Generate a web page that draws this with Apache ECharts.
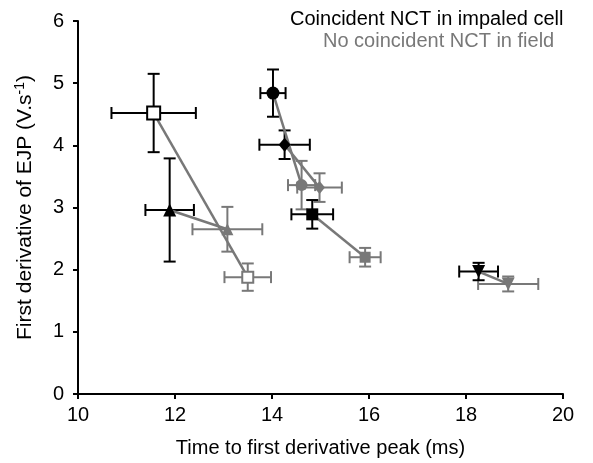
<!DOCTYPE html>
<html>
<head>
<meta charset="utf-8">
<script src="https://cdn.jsdelivr.net/npm/echarts@6/dist/echarts.min.js"></script>
<style>html,body{margin:0;padding:0;background:#fff;}#c{width:593px;height:463px;}</style>
</head>
<body>
<div id="c"></div>
<script>
// Data
const markerTypes = ['openSquare', 'triangle', 'circle', 'diamond', 'square', 'invTriangle'];
const coincX = [11.56, 11.89, 14.02, 14.26, 14.83, 18.26];
const coincY = [4.52, 2.96, 4.84, 4.01, 2.89, 1.97];
const coincXErr = [0.87, 0.50, 0.26, 0.52, 0.43, 0.40];
const coincYErr = [0.63, 0.83, 0.38, 0.23, 0.23, 0.14];
const fieldX = [13.50, 13.08, 14.61, 14.98, 15.92, 18.87];
const fieldY = [1.88, 2.65, 3.36, 3.32, 2.20, 1.77];
const fieldXErr = [0.48, 0.72, 0.28, 0.46, 0.32, 0.62];
const fieldYErr = [0.22, 0.36, 0.39, 0.23, 0.15, 0.12];
const xTicks = [10, 12, 14, 16, 18, 20];
const yTicks = [0, 1, 2, 3, 4, 5, 6];
const legendLabels = ['Coincident NCT in impaled cell', 'No coincident NCT in field'];

const BLACK = '#000000';
const GRAY = '#787878';
const FONT = 'Liberation Sans, Arial, sans-serif';

function symbolFor(type, color, big) {
  const s = big ? 13 : 12;
  switch (type) {
    case 'openSquare': return {symbol: 'rect', symbolSize: big ? 13 : 11, itemStyle: {color: '#fff', borderColor: color, borderWidth: 2, opacity: 1}};
    case 'triangle': return {symbol: 'triangle', symbolSize: s, itemStyle: {color: color, opacity: 1}};
    case 'circle': return {symbol: 'circle', symbolSize: s, itemStyle: {color: color, opacity: 1}};
    case 'diamond': return {symbol: 'diamond', symbolSize: [s - 1, s + 1], itemStyle: {color: color, opacity: 1}};
    case 'square': return {symbol: 'rect', symbolSize: s - 1, itemStyle: {color: color, opacity: 1}};
    case 'invTriangle': return {symbol: 'triangle', symbolRotate: 180, symbolSize: 13, itemStyle: {color: color, opacity: 1}};
  }
}

function errorSeries(xs, ys, xe, ye, color) {
  return {
    type: 'custom',
    z: 3,
    data: xs.map((x, i) => [x, ys[i], xe[i], ye[i]]),
    renderItem: function (params, api) {
      const x = api.value(0), y = api.value(1), dx = api.value(2), dy = api.value(3);
      const l = api.coord([x - dx, y]);
      const r = api.coord([x + dx, y]);
      const t = api.coord([x, y + dy]);
      const b = api.coord([x, y - dy]);
      const cap = 6;
      const st = {stroke: color, lineWidth: 2};
      const lines = [
        [l[0], l[1], r[0], r[1]],
        [l[0], l[1] - cap, l[0], l[1] + cap],
        [r[0], r[1] - cap, r[0], r[1] + cap],
        [t[0], t[1], b[0], b[1]],
        [t[0] - cap, t[1], t[0] + cap, t[1]],
        [b[0] - cap, b[1], b[0] + cap, b[1]]
      ];
      return {
        type: 'group',
        children: lines.map(p => ({type: 'line', shape: {x1: p[0], y1: p[1], x2: p[2], y2: p[3]}, style: st}))
      };
    }
  };
}

const series = [];
series.push(errorSeries(fieldX, fieldY, fieldXErr, fieldYErr, GRAY));
series.push(errorSeries(coincX, coincY, coincXErr, coincYErr, BLACK));
markerTypes.forEach((m, i) => {
  series.push({
    type: 'line', z: 4, symbol: 'none', silent: true,
    lineStyle: {color: GRAY, width: 2.5},
    data: [[coincX[i], coincY[i]], [fieldX[i], fieldY[i]]]
  });
});
series.push({
  type: 'scatter', z: 5,
  itemStyle: {opacity: 1},
  data: fieldX.map((x, i) => Object.assign({value: [x, fieldY[i]]}, symbolFor(markerTypes[i], GRAY, false)))
});
series.push({
  type: 'scatter', z: 6,
  itemStyle: {opacity: 1},
  data: coincX.map((x, i) => Object.assign({value: [x, coincY[i]]}, symbolFor(markerTypes[i], BLACK, true)))
});

const chart = echarts.init(document.getElementById('c'), null, {renderer: 'canvas'});
chart.setOption({
  animation: false,
  backgroundColor: '#fff',
  grid: {left: 78, right: 30, top: 21, bottom: 68, containLabel: false},
  xAxis: {
    type: 'value', min: xTicks[0], max: xTicks[xTicks.length - 1], interval: 2,
    name: 'Time to first derivative peak (ms)', nameLocation: 'middle', nameGap: 44,
    nameTextStyle: {fontFamily: FONT, fontSize: 20, color: '#000'},
    axisLine: {lineStyle: {color: '#000', width: 2}},
    axisTick: {inside: false, length: 5, lineStyle: {color: '#000', width: 2}},
    axisLabel: {fontFamily: FONT, fontSize: 20, color: '#000', margin: 11},
    splitLine: {show: false}
  },
  yAxis: {
    type: 'value', min: yTicks[0], max: yTicks[yTicks.length - 1], interval: 1,
    name: '{a|First derivative of EJP (V.s}{s|-1}{a|)}', nameLocation: 'middle', nameGap: 41,
    nameTextStyle: {
      fontFamily: FONT, fontSize: 21, color: '#000',
      rich: {
        a: {fontFamily: FONT, fontSize: 21, color: '#000'},
        s: {fontFamily: FONT, fontSize: 14, color: '#000', verticalAlign: 'top', padding: [0, 0, 10, 0]}
      }
    },
    axisLine: {lineStyle: {color: '#000', width: 2}},
    axisTick: {inside: false, length: 5, lineStyle: {color: '#000', width: 2}},
    axisLabel: {fontFamily: FONT, fontSize: 20, color: '#000', margin: 14},
    splitLine: {show: false}
  },
  graphic: [
    {type: 'text', left: 290, top: 9, style: {text: legendLabels[0], fill: BLACK, font: '20px ' + FONT}},
    {type: 'text', left: 323, top: 31, style: {text: legendLabels[1], fill: GRAY, font: '20px ' + FONT}}
  ],
  series: series
});
</script>
</body>
</html>
